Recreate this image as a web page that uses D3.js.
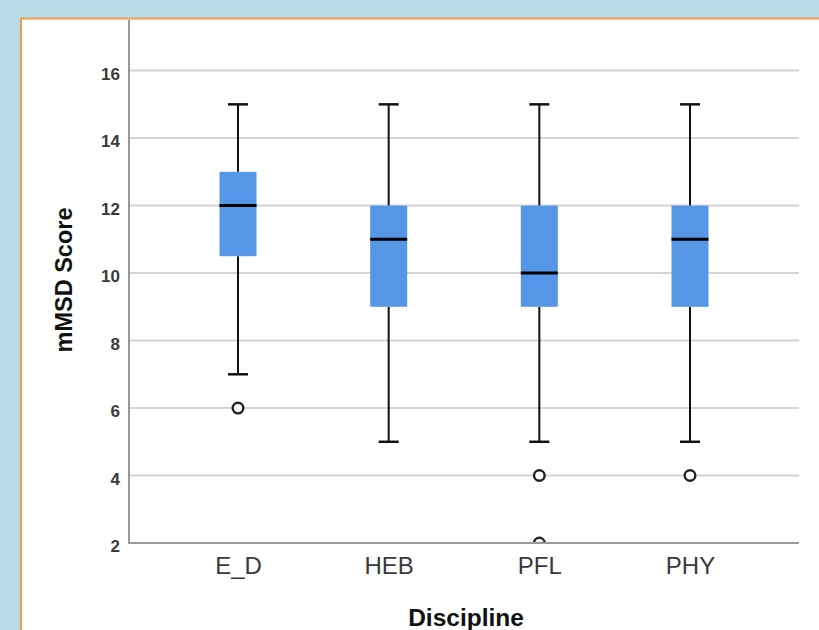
<!DOCTYPE html>
<html>
<head>
<meta charset="utf-8">
<script src="https://cdn.jsdelivr.net/npm/d3@7"></script>
<style>
  body { margin: 0; background: #b8dde8; }
  svg { display: block; }
</style>
</head>
<body>
<svg id="chart" width="819" height="630"></svg>
<script>
// data
const disciplines = ["E_D", "HEB", "PFL", "PHY"];
const whiskerLow  = [7, 5, 5, 5];
const q1          = [10.5, 9, 9, 9];
const median      = [12, 11, 10, 11];
const q3          = [13, 12, 12, 12];
const whiskerHigh = [15, 15, 15, 15];
const outliers    = [[6], [], [4, 2], [4]];
const yTicks = [2, 4, 6, 8, 10, 12, 14, 16];

const svg = d3.select("#chart");
const font = "Liberation Sans, Arial, sans-serif";

// white panel with orange edge
svg.append("rect")
    .attr("x", 21).attr("y", 18.5)
    .attr("width", 820).attr("height", 640)
    .attr("fill", "#fff")
    .attr("stroke", "#f59a4c")
    .attr("stroke-width", 2);

const plotLeft = 129, plotRight = 799, plotTop = 20, plotBottom = 543;

const y = d3.scaleLinear().domain([2, 17.5]).range([plotBottom, plotTop]);
const x = d3.scalePoint().domain(disciplines).range([plotLeft, plotRight]).padding(0.7235);

// gridlines
svg.append("g")
    .selectAll("line")
    .data(yTicks.filter(d => d > 2))
    .join("line")
    .attr("x1", plotLeft).attr("x2", plotRight)
    .attr("y1", d => y(d)).attr("y2", d => y(d))
    .attr("stroke", "#d4d4d4")
    .attr("stroke-width", 2);

svg.append("clipPath").attr("id", "plot-clip")
    .append("rect")
    .attr("x", plotLeft).attr("y", plotTop)
    .attr("width", plotRight - plotLeft).attr("height", plotBottom - plotTop);

const boxes = svg.append("g").attr("clip-path", "url(#plot-clip)");
const boxW = 37, capW = 20;

disciplines.forEach((name, i) => {
    const cx = x(name);
    const g = boxes.append("g");
    // whisker stems
    g.append("line")
        .attr("x1", cx).attr("x2", cx)
        .attr("y1", y(whiskerHigh[i])).attr("y2", y(q3[i]))
        .attr("stroke", "#111").attr("stroke-width", 2);
    g.append("line")
        .attr("x1", cx).attr("x2", cx)
        .attr("y1", y(q1[i])).attr("y2", y(whiskerLow[i]))
        .attr("stroke", "#111").attr("stroke-width", 2);
    // caps
    [whiskerHigh[i], whiskerLow[i]].forEach(v => {
        g.append("line")
            .attr("x1", cx - capW / 2).attr("x2", cx + capW / 2)
            .attr("y1", y(v)).attr("y2", y(v))
            .attr("stroke", "#111").attr("stroke-width", 2.5);
    });
    // box
    g.append("rect")
        .attr("x", cx - boxW / 2).attr("width", boxW)
        .attr("y", y(q3[i])).attr("height", y(q1[i]) - y(q3[i]))
        .attr("fill", "#5596e6");
    // median
    g.append("line")
        .attr("x1", cx - boxW / 2).attr("x2", cx + boxW / 2)
        .attr("y1", y(median[i])).attr("y2", y(median[i]))
        .attr("stroke", "#000").attr("stroke-width", 3);
    // outliers
    g.selectAll("circle")
        .data(outliers[i])
        .join("circle")
        .attr("cx", cx).attr("cy", d => y(d))
        .attr("r", 5.3)
        .attr("fill", "#fff")
        .attr("stroke", "#222")
        .attr("stroke-width", 2.4);
});

// y axis
const yAxis = svg.append("g")
    .attr("transform", `translate(${plotLeft},0)`)
    .call(d3.axisLeft(y).tickValues(yTicks).tickSize(0).tickPadding(9));
yAxis.select(".domain").remove();
yAxis.selectAll("text")
    .attr("font-family", font)
    .attr("font-size", 17)
    .attr("font-weight", "bold")
    .attr("dy", "0.5em")
    .attr("fill", "#3a3a3a");

// x axis
const xAxis = svg.append("g")
    .attr("transform", `translate(0,${plotBottom})`)
    .call(d3.axisBottom(x).tickSize(0).tickPadding(14));
xAxis.select(".domain").remove();
xAxis.selectAll("text")
    .attr("font-family", font)
    .attr("font-size", 24)
    .attr("fill", "#3a3a3a");

// axis lines
svg.append("path")
    .attr("d", `M${plotLeft},${plotTop}V${plotBottom}H${plotRight}`)
    .attr("fill", "none")
    .attr("stroke", "#999")
    .attr("stroke-width", 2);

// axis titles
svg.append("text")
    .attr("x", 466).attr("y", 626)
    .attr("text-anchor", "middle")
    .attr("font-family", font)
    .attr("font-size", 24.5)
    .attr("font-weight", "bold")
    .attr("fill", "#111")
    .text("Discipline");

svg.append("text")
    .attr("transform", `translate(72,280) rotate(-90)`)
    .attr("text-anchor", "middle")
    .attr("font-family", font)
    .attr("font-size", 23.5)
    .attr("font-weight", "bold")
    .attr("fill", "#111")
    .text("mMSD Score");
</script>
</body>
</html>
